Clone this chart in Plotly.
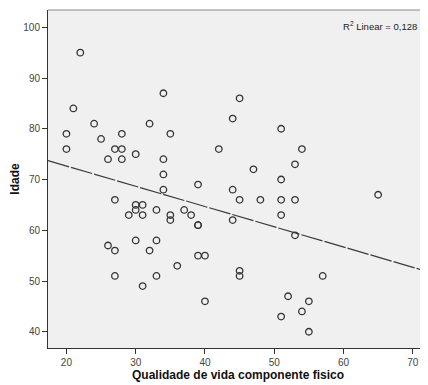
import numpy as np
import plotly.graph_objects as go

qualidade = [22, 21, 20, 20, 24, 25, 27, 28, 28, 26,
             28, 30, 32, 34, 35, 34, 34, 34, 39, 27,
             45, 44, 51, 42, 54, 53, 47, 51, 44, 65,
             45, 48, 51, 53, 51, 44, 53, 45, 45, 57,
             52, 55, 54, 51, 55, 30, 31, 30, 29, 31,
             33, 35, 35, 37, 38, 39, 26, 27, 30, 32,
             33, 27, 33, 31, 36, 39, 40, 40, 39]
idade = [95, 84, 79, 76, 81, 78, 76, 76, 79, 74,
         74, 75, 81, 87, 79, 74, 71, 68, 69, 66,
         86, 82, 80, 76, 76, 73, 72, 70, 68, 67,
         66, 66, 66, 66, 63, 62, 59, 52, 51, 51,
         47, 46, 44, 43, 40, 65, 65, 64, 63, 63,
         64, 63, 62, 64, 63, 61, 57, 56, 58, 56,
         58, 51, 51, 49, 53, 55, 55, 46, 61]
x_ticks = [20, 30, 40, 50, 60, 70]
y_ticks = [40, 50, 60, 70, 80, 90, 100]
r2_label = "R<sup>2</sup> Linear = 0,128"

x_range = [17.34, 72.2]
y_range = [36.8, 103.4]

slope, intercept = np.polyfit(qualidade, idade, 1)
fit_x = np.array(x_range)
fit_y = intercept + slope * fit_x

fig = go.Figure()
fig.add_trace(go.Scatter(
    x=fit_x, y=fit_y, mode="lines",
    line=dict(color="#3a3a3a", width=1.2, dash="22px,2px"),
    hoverinfo="skip", showlegend=False))
fig.add_trace(go.Scatter(
    x=qualidade, y=idade, mode="markers",
    marker=dict(symbol="circle-open", size=6.5, color="#333333",
                line=dict(width=1.3, color="#333333")),
    showlegend=False))

# the page body adds an 8px margin, so the figure is sized 8px smaller
font = "Liberation Sans, Arial, sans-serif"
fig.update_layout(
    width=420, height=377,
    margin=dict(l=40, r=0, t=2, b=37),
    paper_bgcolor="white", plot_bgcolor="#F0F0F0",
    font=dict(family=font, size=10, color="#333333"),
    xaxis=dict(range=x_range, tickvals=x_ticks, showgrid=False, zeroline=False,
               showline=True, linecolor="#333333", linewidth=1,
               ticks="outside", ticklen=5, tickcolor="#333333",
               tickfont=dict(size=10, color="#444444"),
               title=dict(text="<b>Qualidade de vida componente fisico</b>",
                          font=dict(size=12, color="#111111"), standoff=3)),
    yaxis=dict(range=y_range, tickvals=y_ticks, showgrid=False, zeroline=False,
               showline=True, linecolor="#333333", linewidth=1,
               ticks="outside", ticklen=5, tickcolor="#333333",
               tickfont=dict(size=10, color="#444444"),
               title=dict(text="<b>Idade</b>",
                          font=dict(size=12, color="#111111"), standoff=6)),
    shapes=[dict(type="line", xref="paper", yref="paper", x0=0, x1=1, y0=1, y1=1,
                 line=dict(color="#888888", width=1))],
    annotations=[dict(text=r2_label, xref="paper", yref="paper", x=0.975, y=0.975,
                      xanchor="right", yanchor="top", showarrow=False,
                      font=dict(size=9.5, color="#222222"))],
)

fig.write_html("out.html")
